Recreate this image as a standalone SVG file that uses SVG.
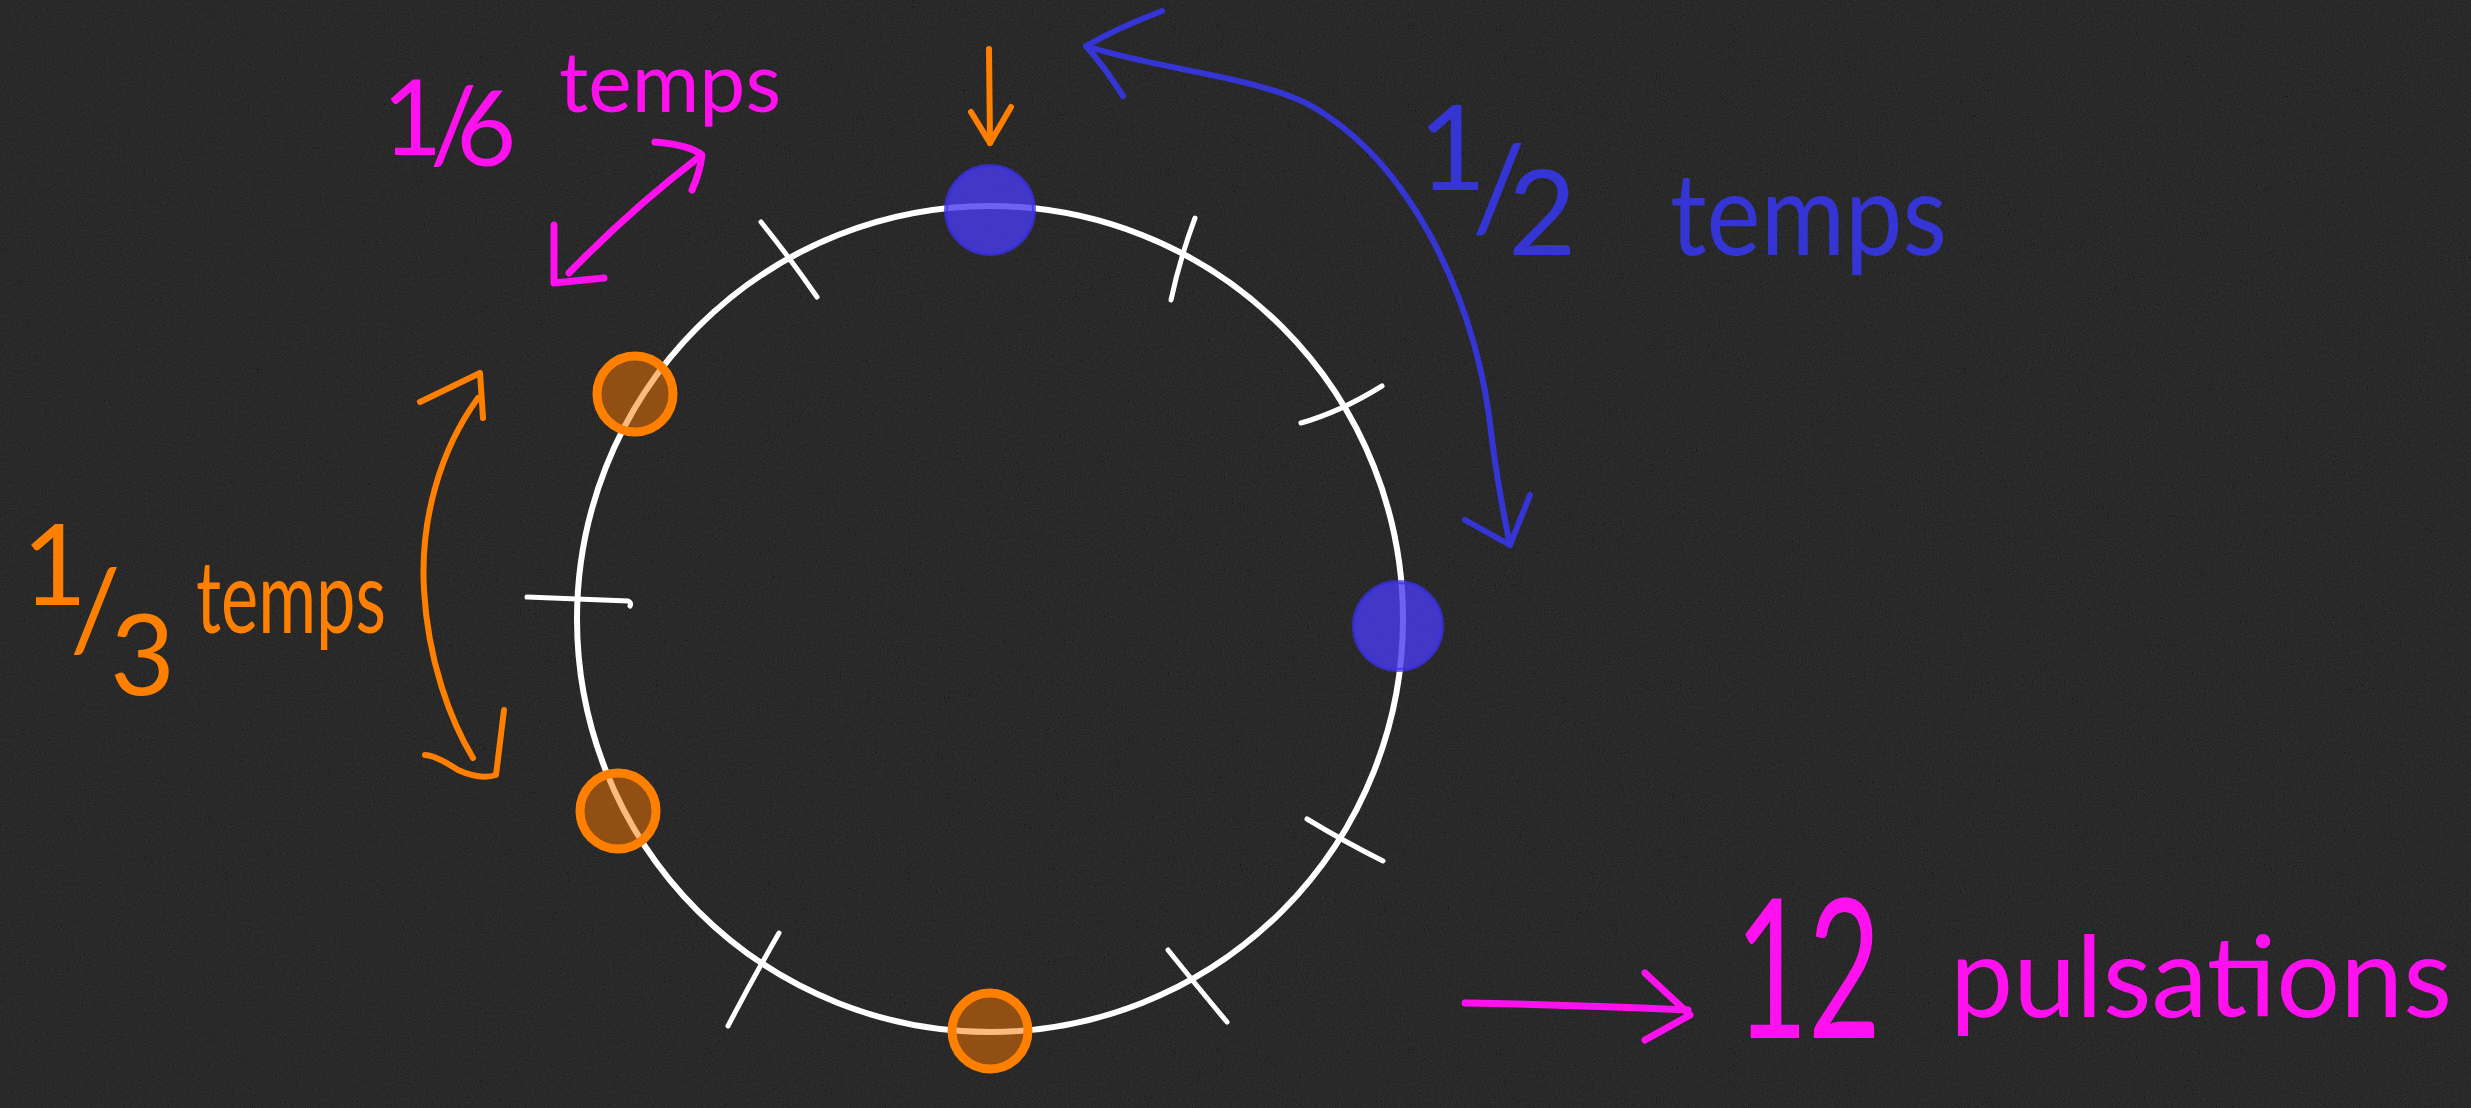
<svg xmlns="http://www.w3.org/2000/svg" width="2471" height="1108" viewBox="0 0 2471 1108">
<defs>
<filter id="noise" x="0" y="0" width="100%" height="100%">
<feTurbulence type="fractalNoise" baseFrequency="0.75" numOctaves="3" seed="7" stitchTiles="stitch"/>
<feColorMatrix type="matrix" values="0.33 0.33 0.33 0 0  0.33 0.33 0.33 0 0  0.33 0.33 0.33 0 0  0 0 0 0 1"/>
<feComponentTransfer>
<feFuncR type="linear" slope="2.2" intercept="-0.6"/>
<feFuncG type="linear" slope="2.2" intercept="-0.6"/>
<feFuncB type="linear" slope="2.2" intercept="-0.6"/>
</feComponentTransfer>
</filter>
<style>
.ink{fill:none;stroke-linecap:round;stroke-linejoin:round}
.w{stroke:#ffffff;stroke-width:6}
.tick{stroke:#ffffff;stroke-width:5}
.b{stroke:#3535d5;stroke-width:6}
.o{stroke:#ff8000;stroke-width:6}
.p{stroke:#ff10ee;stroke-width:7}
.bdot{fill:rgb(72,60,240);fill-opacity:0.8;stroke:rgb(60,50,230);stroke-opacity:0.75;stroke-width:4}
.odot{fill:rgb(250,118,0);fill-opacity:0.5;stroke:#ff8000;stroke-width:9}
text{font-family:"Lato","Liberation Sans",sans-serif;font-weight:400}
.tp{fill:#ff10ee}
.tb{fill:#3535d5}
.to{fill:#ff8000}
</style>
</defs>
<rect width="2471" height="1108" fill="#151515"/>
<rect width="2471" height="1108" filter="url(#noise)" opacity="0.12"/>

<g id="cycle">
<circle class="ink w" cx="990" cy="619" r="413"/>
</g>
<g id="ticks" class="ink tick">
<path d="M761,222 Q790,258 817,297"/>
<path d="M1195,218 Q1180,258 1171,300"/>
<path d="M1301,423 Q1340,412 1382,386"/>
<path d="M1307,819 Q1345,842 1383,861"/>
<path d="M1168,950 Q1196,985 1227,1022"/>
<path d="M779,933 Q752,980 728,1026"/>
<path d="M527,597 L628,601 Q632,603 630,606"/>
</g>
<g id="dot-top"><circle class="bdot" cx="990" cy="210" r="44"/></g>
<g id="dot-right"><circle class="bdot" cx="1398" cy="626" r="44"/></g>
<g id="dot-10"><circle class="odot" cx="635" cy="394" r="38"/></g>
<g id="dot-8"><circle class="odot" cx="618" cy="811" r="38"/></g>
<g id="dot-bottom"><circle class="odot" cx="990" cy="1031" r="38"/></g>

<g id="connectors" class="ink">
<g class="o">
<path d="M989,49 L990,143"/>
<path d="M971,112 L990,143 L1011,107"/>
</g>
<g class="b">
<path d="M1086,46 C1160,70 1250,75 1310,105 C1370,140 1405,190 1430,235 C1465,300 1485,370 1492,440 C1500,500 1506,525 1510,545"/>
<path d="M1162,11 C1125,25 1100,38 1086,46 C1100,62 1113,80 1123,96"/>
<path d="M1465,520 L1510,545 L1530,495"/>
</g>
<g class="p">
<path d="M569,273 Q630,210 699,157"/>
<path d="M655,142 Q690,145 702,155 Q700,172 692,190"/>
<path d="M554,225 L554,283 L604,278"/>
</g>
<g class="o">
<path d="M478,398 C440,450 420,520 424,590 C428,660 450,720 473,758"/>
<path d="M420,402 L480,373 L483,418"/>
<path d="M425,755 Q435,755 458,770 Q480,780 496,775 L504,710"/>
</g>
<g class="p">
<path d="M1465,1003 Q1580,1005 1688,1010"/>
<path d="M1645,973 L1690,1015 L1645,1040"/>
</g>
</g>

<g id="label-sixth">
<text class="tp"><tspan x="382 430 456" y="155 162 166" font-size="104">1/6</tspan> <tspan x="559" y="112" font-size="84" textLength="222" lengthAdjust="spacingAndGlyphs">temps</tspan></text>
</g>
<g id="label-half">
<text class="tb" font-size="118"><tspan x="1418 1472 1508" y="190 230 255">1/2</tspan> <tspan x="1670" y="255" font-size="114" textLength="277" lengthAdjust="spacingAndGlyphs">temps</tspan></text>
</g>
<g id="label-third">
<text class="to" font-size="112"><tspan x="22 70 110" y="605 650 695">1/3</tspan> <tspan x="196" y="633" font-size="100" textLength="190" lengthAdjust="spacingAndGlyphs">temps</tspan></text>
</g>
<g id="label-pulses">
<text class="tp"><tspan x="1735" y="1038" font-size="195" textLength="146" lengthAdjust="spacingAndGlyphs">12</tspan> <tspan x="1950" y="1017" font-size="112" textLength="502" lengthAdjust="spacingAndGlyphs">pulsations</tspan></text>
</g>
</svg>
